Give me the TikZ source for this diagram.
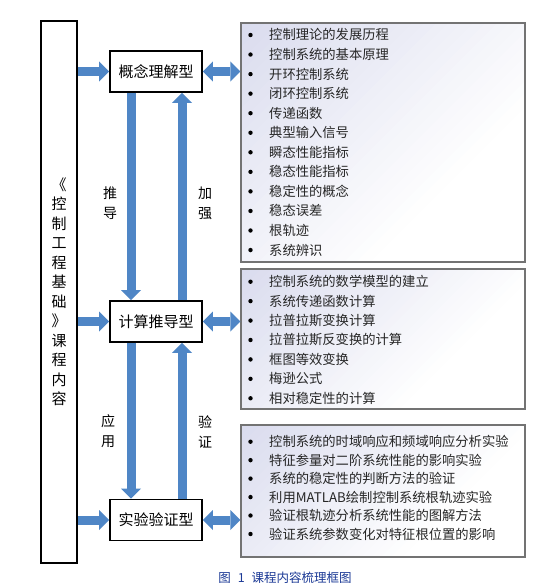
\documentclass[tikz,border=0pt]{standalone}
\usepackage{fontspec}
\setmainfont{Noto Sans CJK SC}
\usetikzlibrary{arrows.meta}
\definecolor{arr}{RGB}{79,134,198}
\definecolor{shadec}{RGB}{218,220,238}
\definecolor{capc}{RGB}{28,58,150}
\newcommand\gradbox[4]{%
  \begin{scope}
    \clip (#1,#2) rectangle (#3,#4);
    \fill[white] (#1,#2) rectangle (#3,#4);
    \pgfmathsetmacro\gsmin{#1+#2}
    \pgfmathsetmacro\gsmax{#3+#4}
    \foreach \k in {0,...,29}{
      \pgfmathsetmacro\gsa{\gsmin+(\gsmax-\gsmin)*0.7*\k/30}
      \pgfmathsetmacro\gsb{\gsmin+(\gsmax-\gsmin)*0.7*(\k+1)/30+1}
      \pgfmathsetmacro\gpc{100*(1-\k/30)}
      \fill[shadec!\gpc!white] (\gsa-#2,#2) -- (\gsb-#2,#2) -- (\gsb-#4,#4) -- (\gsa-#4,#4) -- cycle;
    }
  \end{scope}}
\begin{document}
\begin{tikzpicture}[x=1pt,y=-1pt,
  mainbox/.style={draw=black, line width=1.6pt, minimum width=92pt, minimum height=41pt, inner sep=0pt,
    fill=white, font=\fontsize{15}{18}\selectfont},
  sidebox/.style={draw=black, line width=1.6pt, minimum width=36pt, minimum height=542pt, inner sep=0pt,
    fill=white, align=center, font=\fontsize{15}{19.5}\selectfont},
  listbox/.style={draw=black!55, line width=1.2pt, minimum width=284pt, inner sep=0pt},
  itemtext/.style={anchor=base west, inner sep=0pt, font=\fontsize{13.3}{15}\selectfont, text=black!85},
  lbl/.style={inner sep=0pt, align=center, font=\fontsize{14}{20}\selectfont},
  blockarrow/.style={draw=arr, line width=9pt, -{Triangle[width=20pt,length=10pt,line width=0pt]}},
  dblarrow/.style={draw=arr, line width=9pt, {Triangle[width=20pt,length=10pt,line width=0pt]}-{Triangle[width=20pt,length=10pt,line width=0pt]}},
]
\useasboundingbox (0,0) rectangle (555,586);
\fill[white] (0,0) rectangle (555,586);

% left box
\node[sidebox] (side) at (59,292) {《\\控\\制\\工\\程\\基\\础\\》\\课\\程\\内\\容};

% main boxes
\node[mainbox] (concept) at (156,71.5) {概念理解型};
\node[mainbox] (calc) at (156,321.5) {计算推导型};
\node[mainbox] (exper) at (156,520) {实验验证型};

% list boxes (gradient fill, then frame)
\gradbox{241}{23}{525}{262}
\gradbox{241}{269}{525}{409}
\gradbox{241}{425}{525}{557}
\node[listbox, minimum height=239pt] (list1) at (383,142.5) {};
\node[listbox, minimum height=140pt] (list2) at (383,339) {};
\node[listbox, minimum height=132pt] (list3) at (383,491) {};

% list items
\foreach \t [count=\i] in {控制理论的发展历程,控制系统的基本原理,开环控制系统,闭环控制系统,传递函数,典型输入信号,瞬态性能指标,稳态性能指标,稳定性的概念,稳态误差,根轨迹,系统辨识}{
  \pgfmathsetmacro{\yy}{35+19.55*(\i-1)}
  \node[itemtext] (a\i) at (269,\yy+5) {\t};
  \fill[black] (250.5,\yy) circle (2.2pt);
}
\foreach \t [count=\i] in {控制系统的数学模型的建立,系统传递函数计算,拉普拉斯变换计算,拉普拉斯反变换的计算,框图等效变换,梅逊公式,相对稳定性的计算}{
  \pgfmathsetmacro{\yy}{281.7+19.43*(\i-1)}
  \node[itemtext] (b\i) at (269,\yy+5) {\t};
  \fill[black] (250.5,\yy) circle (2.2pt);
}
\foreach \t [count=\i] in {控制系统的时域响应和频域响应分析实验,特征参量对二阶系统性能的影响实验,系统的稳定性的判断方法的验证,利用MATLAB绘制控制系统根轨迹实验,验证根轨迹分析系统性能的图解方法,验证系统参数变化对特征根位置的影响}{
  \pgfmathsetmacro{\yy}{441.7+18.46*(\i-1)}
  \node[itemtext] (c\i) at (269,\yy+5) {\t};
  \fill[black] (250.5,\yy) circle (2.2pt);
}

% arrows from side box
\draw[blockarrow] (side.east |- concept.west) -- (concept.west);
\draw[blockarrow] (side.east |- calc.west) -- (calc.west);
\draw[blockarrow] (side.east |- exper.west) -- (exper.west);

% double arrows to lists
\draw[dblarrow] (concept.east) -- (list1.west |- concept.east);
\draw[dblarrow] (calc.east) -- (list2.west |- calc.east);
\draw[dblarrow] (exper.east) -- (list3.west |- exper.east);

% vertical arrows
\draw[blockarrow] ([xshift=-25pt]concept.south) -- ([xshift=-25pt]calc.north);
\draw[blockarrow] ([xshift=26pt]calc.north) -- ([xshift=26pt]concept.south);
\draw[blockarrow] ([xshift=-25pt]calc.south) -- ([xshift=-25pt]exper.north);
\draw[blockarrow] ([xshift=26pt]exper.north) -- ([xshift=26pt]calc.south);

% labels
\node[lbl] (t1) at (110,203) {推\\导};
\node[lbl] (t2) at (205,203) {加\\强};
\node[lbl] (t3) at (108,431.5) {应\\用};
\node[lbl] (t4) at (205,431.5) {验\\证};

% caption
\node[inner sep=0pt, text=capc, font=\fontsize{12.5}{14}\selectfont] (cap) at (285,578) {图\hspace{7pt}1\hspace{7pt}课程内容梳理框图};
\end{tikzpicture}
\end{document}
